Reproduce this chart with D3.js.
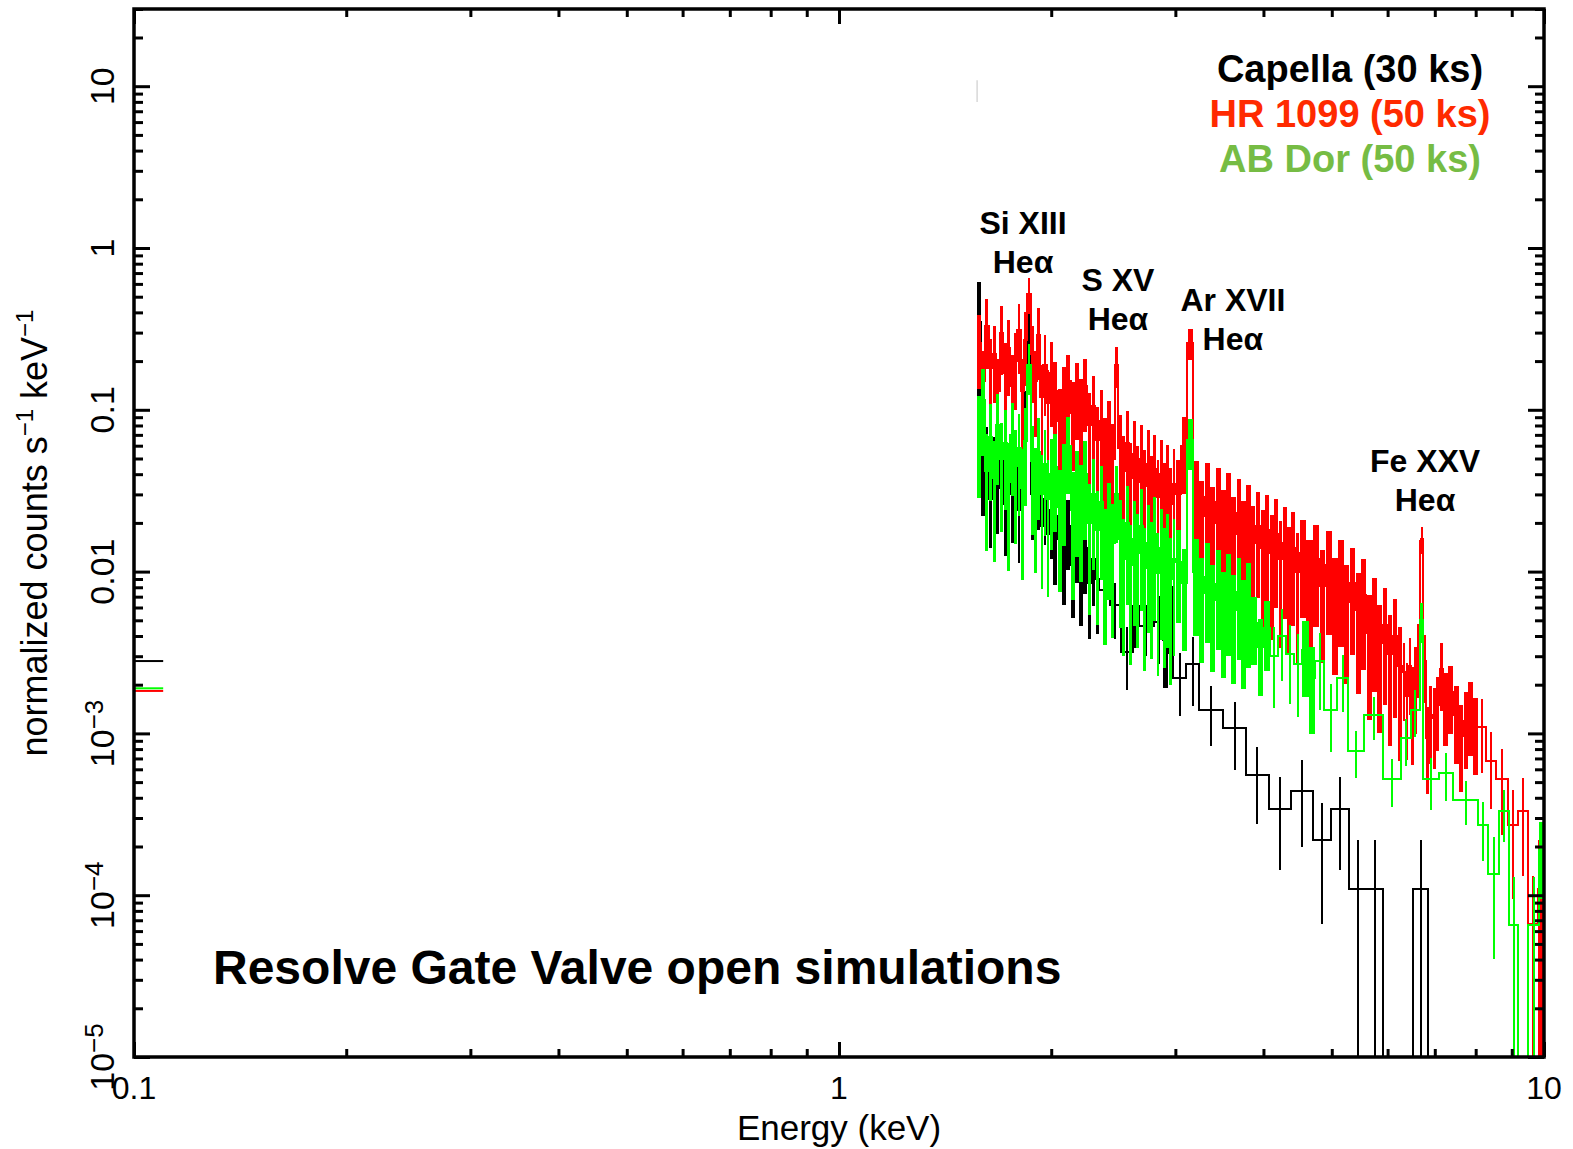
<!DOCTYPE html>
<html>
<head>
<meta charset="utf-8">
<script src="https://cdn.jsdelivr.net/npm/d3@7"></script>
<style>
  body { margin: 0; background: #fff; }
  svg { display: block; font-family: "Liberation Sans", Arial, Helvetica, sans-serif; }
  text { white-space: pre; }
</style>
</head>
<body>
<svg id="chart"></svg>
<script>
// bin edges (keV) shared by the three spectra at low energy
const gridLow = [1.57, 1.59, 1.61, 1.63, 1.65, 1.67, 1.69, 1.71, 1.73, 1.75, 1.77, 1.79, 1.81, 1.83, 1.85, 1.87, 1.89, 1.91, 1.93, 1.95, 1.97, 1.99, 2.01];
const gridMid = [2.04, 2.07, 2.10, 2.13, 2.16, 2.19, 2.22, 2.25, 2.28, 2.31, 2.34, 2.37, 2.40, 2.43, 2.46, 2.49, 2.52, 2.55, 2.58, 2.61, 2.64, 2.67, 2.70, 2.73, 2.76, 2.79, 2.82, 2.85, 2.88, 2.91, 2.94, 2.97, 3.00];

// Capella (30 ks)
const capEdgesHigh = [2.04, 2.07, 2.10, 2.13, 2.16, 2.19, 2.22, 2.25, 2.28, 2.31, 2.34,
  2.42, 2.51, 2.61, 2.66, 2.80, 2.88, 2.93, 2.98, 3.11, 3.24, 3.51, 3.78, 4.07, 4.38, 4.70, 4.99, 5.29, 5.61, 5.91, 6.52, 6.85, 6.98];
const capRate = [0.35, 0.040, 0.055, 0.028, 0.047, 0.033, 0.052, 0.026, 0.040, 0.030, 0.045, 0.024, 0.036, 0.10, 0.45, 0.030, 0.022, 0.034, 0.019, 0.028, 0.017, 0.024,
  0.016, 0.022, 0.013, 0.019, 0.011, 0.016, 0.010, 0.014, 0.0085, 0.012, 0.0090,
  0.0077, 0.0062, 0.0032, 0.0061, 0.0046, 0.0049, 0.0038, 0.0056, 0.0022, 0.0027, 0.0014, 0.00108, 0.00055, 0.00034, 0.00044, 0.00022, 0.00034, 0.00011, 0.00011, 0, 0.00011, 0];
const capErrPct = [75, 45, 42, 50, 44, 48, 42, 52, 45, 50, 44, 53, 46, 30, 45, 48, 53, 47, 54, 48, 55, 50,
  48, 44, 52, 46, 53, 47, 54, 48, 55, 49, 54,
  40, 38, 42, 45, 35, 45, 50, 45, 42, 45, 40, 45, 50, 58, 55, 70, 58, 100, 100, 0, 100, 0];

// HR 1099 (50 ks)
const hrEdgesHigh = [3.06, 3.12, 3.18, 3.24, 3.30, 3.36, 3.42, 3.48, 3.54, 3.60, 3.66, 3.72, 3.78, 3.84, 3.90, 3.96, 4.02, 4.08, 4.14, 4.20, 4.26, 4.32, 4.38, 4.44, 4.50,
  4.60, 4.70, 4.80, 4.90, 5.00, 5.10, 5.20, 5.30, 5.40, 5.50, 5.60, 5.70, 5.80, 5.90, 6.00, 6.10, 6.20, 6.30,
  6.36, 6.42, 6.48, 6.54, 6.60, 6.66, 6.70, 6.74, 6.80, 6.87, 6.95, 7.03, 7.11, 7.19, 7.31, 7.44, 7.58, 7.69, 7.80, 7.93, 8.06, 8.28, 8.55, 8.89, 9.19, 9.49, 9.81, 10.0];
const hrRate = [0.26, 0.15, 0.33, 0.18, 0.22, 0.13, 0.30, 0.17, 0.24, 0.14, 0.20, 0.31, 0.13, 0.27, 0.52, 0.22, 0.15, 0.29, 0.12, 0.19, 0.11, 0.17,
  0.13, 0.085, 0.12, 0.15, 0.095, 0.13, 0.10, 0.14, 0.08, 0.105, 0.065, 0.085, 0.055, 0.072, 0.05, 0.19, 0.058, 0.042, 0.062, 0.038, 0.053, 0.036, 0.05, 0.034, 0.046, 0.031, 0.043, 0.029, 0.040, 0.028, 0.037, 0.026, 0.035,
  0.030, 0.06, 0.26, 0.030, 0.022, 0.029, 0.020, 0.027, 0.019, 0.025, 0.017, 0.023, 0.016, 0.021, 0.015, 0.019, 0.014, 0.018, 0.013, 0.017, 0.012, 0.015, 0.011, 0.014, 0.010,
  0.013, 0.0095, 0.012, 0.0082, 0.011, 0.0072, 0.0095, 0.0065, 0.0085, 0.0058, 0.0072, 0.0042, 0.0055, 0.0036, 0.0047, 0.0031, 0.0040, 0.0026,
  0.0024, 0.0017, 0.0026, 0.0016, 0.0022, 0.0032, 0.013, 0.016, 0.0028, 0.00094, 0.0013, 0.00125, 0.0015, 0.0025, 0.0016, 0.0018, 0.0013, 0.00096, 0.0012, 0.0014, 0.0011, 0.0011, 0.00068, 0.00052, 0.00027, 0.00033, 0.000066, 0.00011];
const hrErrPct = [48, 55, 46, 52, 50, 58, 45, 53, 49, 56, 50, 46, 58, 48, 25, 50, 55, 47, 58, 52, 60, 54,
  52, 58, 53, 45, 56, 50, 55, 48, 58, 53, 60, 55, 62, 57, 63, 28, 60, 64, 58, 65, 60, 65, 61, 66, 62, 67, 63, 68, 63, 68, 64, 69, 64,
  64, 50, 22, 62, 66, 61, 67, 62, 68, 62, 69, 63, 70, 63, 70, 64, 71, 65, 71, 65, 72, 66, 72, 67, 73,
  60, 66, 62, 67, 63, 68, 64, 69, 64, 70, 66, 71, 67, 72, 68, 73, 69, 74,
  50, 60, 50, 60, 55, 48, 20, 18, 45, 55, 50, 52, 48, 45, 48, 45, 50, 55, 50, 48, 50, 48, 50, 55, 65, 60, 100, 100];

// AB Dor (50 ks)
const abEdgesHigh = [3.06, 3.12, 3.18, 3.24, 3.30, 3.36, 3.42, 3.48, 3.54, 3.60, 3.66, 3.72, 3.78, 3.84,
  3.92, 4.00, 4.09, 4.20, 4.30, 4.42, 4.54, 4.64, 4.74, 4.88, 5.09, 5.27, 5.56, 5.92, 6.27, 6.48, 6.66, 6.74, 7.10, 7.43, 8.06, 8.33, 8.64, 8.92, 9.20, 9.50, 9.84, 10.0];
const abRate = [0.075, 0.115, 0.042, 0.068, 0.038, 0.080, 0.050, 0.062, 0.036, 0.070, 0.045, 0.058, 0.033, 0.064, 0.19, 0.048, 0.034, 0.055, 0.030, 0.046, 0.028, 0.040,
  0.044, 0.025, 0.038, 0.060, 0.024, 0.034, 0.027, 0.040, 0.020, 0.030, 0.018, 0.027, 0.014, 0.021, 0.015, 0.030, 0.016, 0.012, 0.020, 0.011, 0.016, 0.013, 0.019, 0.0105, 0.015, 0.0115, 0.017, 0.0098, 0.014, 0.0105, 0.013, 0.0090, 0.012,
  0.0115, 0.0085, 0.065, 0.0100, 0.0074, 0.0093, 0.0067, 0.0084, 0.0061, 0.0079, 0.0058, 0.0075, 0.0054, 0.0069,
  0.0048, 0.0034, 0.0045, 0.0030, 0.0040, 0.0031, 0.0027, 0.0033, 0.0022, 0.0028, 0.0014, 0.0022, 0.00078, 0.0013, 0.00052, 0.00093, 0.0014, 0.0050, 0.00052, 0.00057, 0.00039, 0.00027, 0.000135, 0.00033, 0.000065, 0, 0.000065, 0.00019];
const abErrPct = [62, 55, 68, 60, 70, 57, 65, 61, 72, 58, 67, 62, 73, 60, 35, 65, 71, 62, 74, 64, 75, 66,
  60, 70, 62, 50, 72, 64, 68, 61, 73, 66, 74, 67, 75, 68, 74, 50, 72, 75, 69, 76, 71, 74, 70, 77, 72, 75, 71, 77, 73, 76, 74, 78, 75,
  58, 62, 35, 60, 63, 61, 64, 61, 64, 62, 65, 62, 65, 63,
  45, 50, 46, 52, 47, 51, 53, 49, 55, 50, 45, 38, 32, 30, 33, 32, 32, 28, 35, 33, 30, 40, 70, 35, 100, 0, 100, 50];

// stray bins left of the plotted band (capella, hr, ab)
const edgeBinE = [0.1, 0.11];
const edgeBinRate = [0.0028, 0.00183, 0.0019];
const markE = 1.57;
const markRange = [8.0, 10.9];

// axis ticks and texts
const xTickVals = [0.1, 1, 10];
const xTickText = ['0.1', '1', '10'];
const yTickVals = [1e-5, 1e-4, 1e-3, 0.01, 0.1, 1, 10];
const yTickBase = ['10', '10', '10', '0.01', '0.1', '1', '10'];
const yTickExp = ['\u22125', '\u22124', '\u22123', '', '', '', ''];

const legendText = ['Capella (30 ks)', 'HR 1099 (50 ks)', 'AB Dor (50 ks)'];
const legendColor = ['#000000', '#ff2a00', '#76bc44'];

const lineNames = [['Si XIII', 'He\u03b1'], ['S XV', 'He\u03b1'], ['Ar XVII', 'He\u03b1'], ['Fe XXV', 'He\u03b1']];
const lineLabelE = [1.824, 2.487, 3.62, 6.78];
const lineLabelY = [0.70, 0.312, 0.234, 0.0238];

const W = 1573, H = 1149;
const plot = { left: 134, right: 1544, top: 9, bottom: 1057 };

const svg = d3.select('#chart').attr('width', W).attr('height', H);

const x = d3.scaleLog().domain([0.1, 10]).range([plot.left, plot.right]);
const y = d3.scaleLog().domain([1e-5, 30]).range([plot.bottom, plot.top]);
const yc = v => (v > 1e-5 ? y(v) : plot.bottom + 4);

svg.append('defs').append('clipPath').attr('id', 'clip')
  .append('rect')
  .attr('x', plot.left).attr('y', plot.top)
  .attr('width', plot.right - plot.left).attr('height', plot.bottom - plot.top);

const data = svg.append('g').attr('clip-path', 'url(#clip)');

const line = d3.line().x(d => x(d[0])).y(d => yc(d[1]));

function drawSeries(edges, rate, errPct, color) {
  const n = Math.min(rate.length, edges.length - 1);
  const steps = [];
  const bars = [];
  for (let i = 0; i < n; i++) {
    steps.push([edges[i], rate[i]], [edges[i + 1], rate[i]]);
    if (rate[i] > 0) {
      const s = rate[i] * errPct[i] / 100;
      const px = x(edges[i + 1]) - x(edges[i]);
      // narrow bins: the error bar covers the bin so the dense part reads as a filled band
      bars.push({ e: Math.sqrt(edges[i] * edges[i + 1]), lo: rate[i] - s, hi: rate[i] + s, w: px < 7 ? Math.max(2, px - 0.5) : 2 });
    }
  }
  const g = data.append('g');
  g.selectAll('line').data(bars).enter().append('line')
    .attr('x1', d => x(d.e)).attr('x2', d => x(d.e))
    .attr('y1', d => yc(d.lo)).attr('y2', d => yc(d.hi))
    .attr('stroke', color)
    .attr('stroke-width', d => d.w)
    .attr('shape-rendering', 'crispEdges');
  g.append('path').datum(steps)
    .attr('d', line)
    .attr('fill', 'none')
    .attr('stroke', color)
    .attr('stroke-width', 2)
    .attr('shape-rendering', 'crispEdges');
}

drawSeries(gridLow.concat(capEdgesHigh), capRate, capErrPct, '#000000');
drawSeries(gridLow.concat(gridMid, hrEdgesHigh), hrRate, hrErrPct, '#ff0000');
drawSeries(gridLow.concat(gridMid, abEdgesHigh), abRate, abErrPct, '#00ff00');

// short bins at the left edge
const edgeColors = ['#000000', '#ff0000', '#00ff00'];
svg.append('g').selectAll('line').data(edgeBinRate).enter().append('line')
  .attr('x1', x(edgeBinE[0])).attr('x2', x(edgeBinE[1]))
  .attr('y1', d => y(d)).attr('y2', d => y(d))
  .attr('stroke', (d, i) => edgeColors[i])
  .attr('stroke-width', 2);

svg.append('line')
  .attr('x1', x(markE)).attr('x2', x(markE))
  .attr('y1', y(markRange[0])).attr('y2', y(markRange[1]))
  .attr('stroke', '#d8d8d8').attr('stroke-width', 1.5);

// axes: ticks pointing inward on all four sides
const isMajor = v => Math.abs(Math.log10(v) - Math.round(Math.log10(v))) < 1e-6;
const xMinor = x.ticks().filter(v => !isMajor(v));
const yAll = y.ticks();
const yMinor = yAll.filter(v => !isMajor(v));
const yMajor = yAll.filter(isMajor);

function tickAxis(gen, tx, ty) {
  svg.append('g')
    .attr('transform', `translate(${tx},${ty})`)
    .call(gen)
    .call(g => g.select('.domain').remove())
    .call(g => g.selectAll('.tick line').attr('stroke', '#000').attr('stroke-width', 3));
}

tickAxis(d3.axisBottom(x).tickValues(xTickVals).tickSize(-15).tickFormat(''), 0, plot.bottom);
tickAxis(d3.axisBottom(x).tickValues(xMinor).tickSize(-8).tickFormat(''), 0, plot.bottom);
tickAxis(d3.axisTop(x).tickValues(xTickVals).tickSize(-15).tickFormat(''), 0, plot.top);
tickAxis(d3.axisTop(x).tickValues(xMinor).tickSize(-8).tickFormat(''), 0, plot.top);
tickAxis(d3.axisLeft(y).tickValues(yMajor).tickSize(-16).tickFormat(''), plot.left, 0);
tickAxis(d3.axisLeft(y).tickValues(yMinor).tickSize(-9).tickFormat(''), plot.left, 0);
tickAxis(d3.axisRight(y).tickValues(yMajor).tickSize(-16).tickFormat(''), plot.right, 0);
tickAxis(d3.axisRight(y).tickValues(yMinor).tickSize(-9).tickFormat(''), plot.right, 0);

svg.append('rect')
  .attr('x', plot.left).attr('y', plot.top)
  .attr('width', plot.right - plot.left).attr('height', plot.bottom - plot.top)
  .attr('fill', 'none').attr('stroke', '#000').attr('stroke-width', 3.5);

// tick labels
svg.append('g').selectAll('text').data(xTickVals).enter().append('text')
  .attr('x', d => x(d)).attr('y', 1099)
  .attr('text-anchor', 'middle')
  .attr('font-size', 32)
  .text((d, i) => xTickText[i]);

const yLab = svg.append('g').selectAll('text').data(yTickVals).enter().append('text')
  .attr('transform', d => `translate(114,${y(d)}) rotate(-90)`)
  .attr('text-anchor', 'middle')
  .attr('font-size', 34);
yLab.append('tspan').text((d, i) => yTickBase[i]);
yLab.append('tspan')
  .attr('font-size', 26).attr('dy', -11)
  .text((d, i) => yTickExp[i]);

// axis titles
svg.append('text')
  .attr('x', (plot.left + plot.right) / 2).attr('y', 1140)
  .attr('text-anchor', 'middle')
  .attr('font-size', 35)
  .text('Energy (keV)');

const yTitle = svg.append('text')
  .attr('transform', `translate(47,${(plot.top + plot.bottom) / 2}) rotate(-90)`)
  .attr('text-anchor', 'middle')
  .attr('font-size', 36);
yTitle.append('tspan').text('normalized counts s');
yTitle.append('tspan').attr('font-size', 24).attr('dy', -14).text('\u22121');
yTitle.append('tspan').attr('dy', 14).text(' keV');
yTitle.append('tspan').attr('font-size', 24).attr('dy', -14).text('\u22121');

// legend
svg.append('g').selectAll('text').data(legendText).enter().append('text')
  .attr('x', 1350).attr('y', (d, i) => 82 + i * 45)
  .attr('text-anchor', 'middle')
  .attr('font-size', 38).attr('font-weight', 'bold')
  .attr('fill', (d, i) => legendColor[i])
  .text(d => d);

// emission line labels
const lab = svg.append('g').selectAll('text').data(lineNames).enter().append('text')
  .attr('text-anchor', 'middle')
  .attr('font-size', 32).attr('font-weight', 'bold')
  .attr('transform', (d, i) => `translate(${x(lineLabelE[i])},${y(lineLabelY[i])})`);
lab.append('tspan').attr('x', 0).attr('y', -39).text(d => d[0]);
lab.append('tspan').attr('x', 0).attr('y', 0).text(d => d[1]);

svg.append('text')
  .attr('x', 213).attr('y', 984)
  .attr('font-size', 48).attr('font-weight', 'bold')
  .text('Resolve Gate Valve open simulations');
</script>
</body>
</html>
